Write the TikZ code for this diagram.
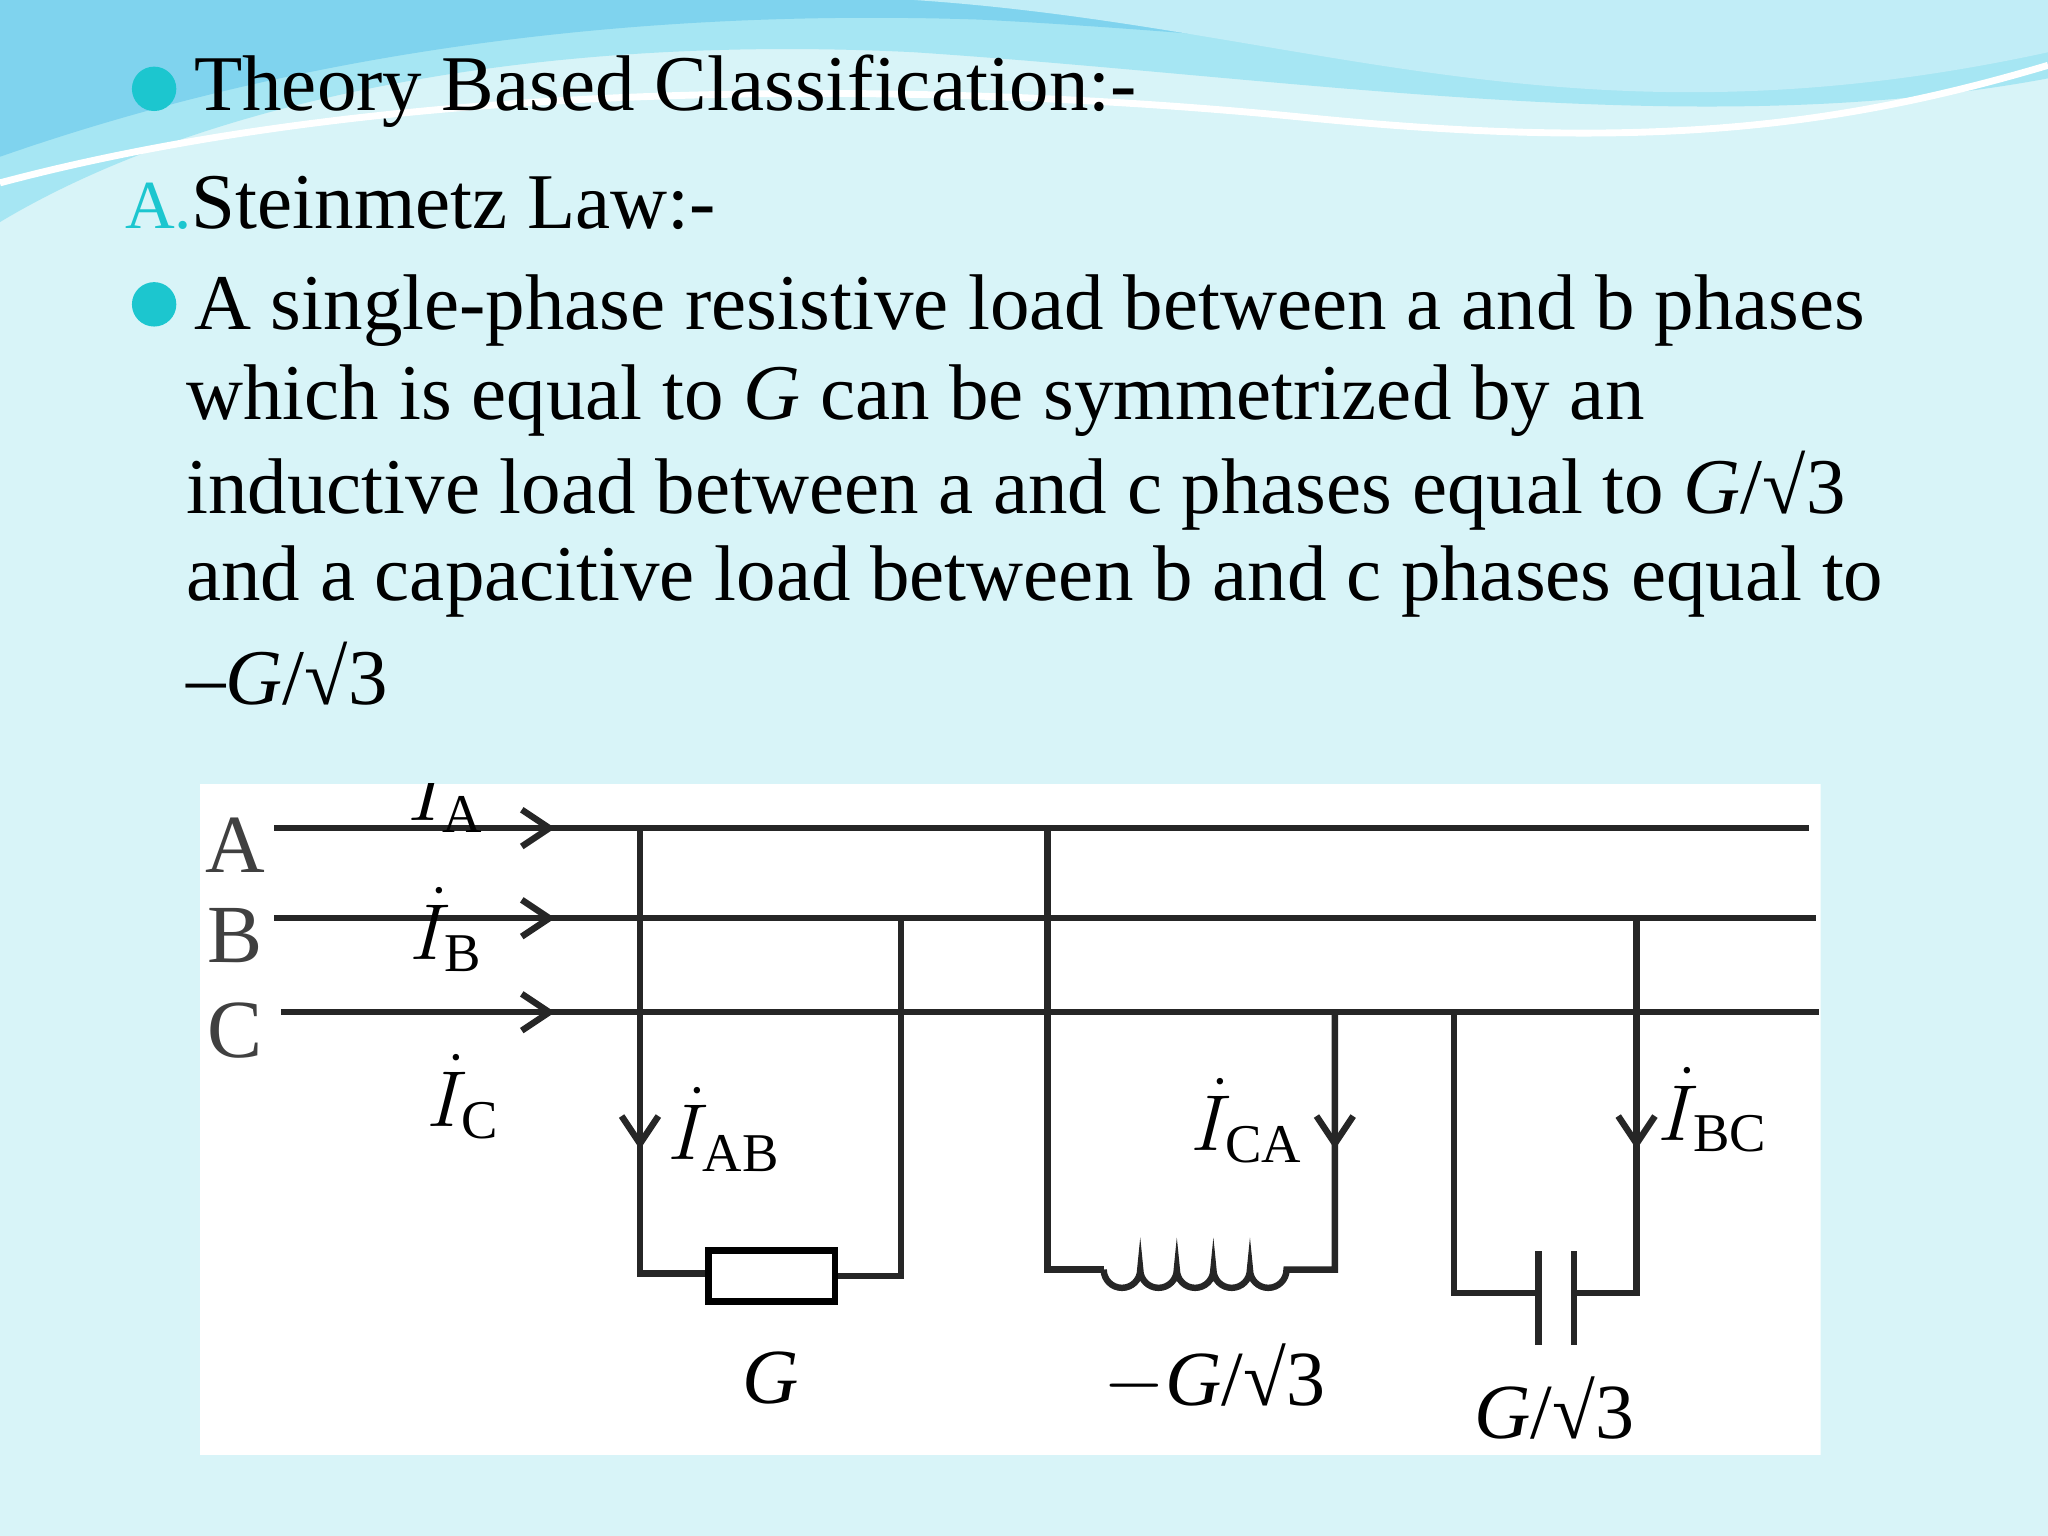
\documentclass[tikz,border=0pt]{standalone}
\usepackage{fontspec}
\setmainfont{Liberation Serif}
\usetikzlibrary{arrows.meta}
\definecolor{bgc}{HTML}{D8F4F8}
\definecolor{teal1}{HTML}{1CC6CF}
\definecolor{wave1}{HTML}{7FD3EE}
\definecolor{wave2}{HTML}{A6E6F3}
\tikzset{
 txt/.style={anchor=west,inner sep=0pt,font=\fontsize{17.2}{19}\selectfont},
 wire/.style={line width=1.4pt,black!85},
 lbl/.style={inner sep=0pt,font=\fontsize{17}{19}\selectfont},
 arr/.style={-{Straight Barb[length=6pt,width=8pt,line width=1.4pt]}}
}
\begin{document}
\begin{tikzpicture}[x=0.1mm,y=-0.1mm]
\useasboundingbox (0,0) rectangle (1568,1176);
\fill[bgc] (0,0) rectangle (1568,1176);
% waves
\fill[wave2] (0,0) -- (1568,0) -- (1568,60) .. controls (1300,110) and (1000,60) .. (700,40) .. controls (400,25) and (150,80) .. (0,170) -- cycle;
\fill[wave1] (0,0) -- (1568,0) -- (1568,30) .. controls (1350,80) and (1050,30) .. (750,15) .. controls (450,5) and (200,50) .. (0,120) -- cycle;
\fill[wave2!70!white] (700,0) .. controls (1000,20) and (1200,120) .. (1568,40) -- (1568,0) -- cycle;
\draw[white,line width=1.5pt] (0,140) .. controls (300,60) and (700,60) .. (1000,90) .. controls (1250,115) and (1400,100) .. (1568,50);
% text
\fill[teal1] (118,68) circle (17);
\node[txt] (t1) at (148,70) {Theory Based Classification:-};
\node[txt] (ta) at (95,155) {\textcolor{teal1}{\fontsize{15}{17}\selectfont A.}Steinmetz Law:-};
\fill[teal1] (118,233) circle (17);
\node[txt] (l1) at (148,238) {A single-phase resistive load between a and b phases};
\node[txt] (l2) at (142,307) {which is equal to \textit{G} can be symmetrized by an};
\node[txt] (l3) at (142,376) {inductive load between a and c phases equal to \textit{G}/√3};
\node[txt] (l4) at (142,445) {and a capacitive load between b and c phases equal to};
\node[txt] (l5) at (142,516) {–\textit{G}/√3};
% circuit
\begin{scope}
\clip (153,600) rectangle (1394,1114);
\fill[white] (153,600) rectangle (1394,1114);
\coordinate (a0) at (210,634); \coordinate (a1) at (1385,634);
\coordinate (b0) at (210,703); \coordinate (b1) at (1390,703);
\coordinate (c0) at (215,775); \coordinate (c1) at (1393,775);
\draw[wire] (a0) -- (a1); \draw[wire] (b0) -- (b1); \draw[wire] (c0) -- (c1);
\draw[wire,arr] (380,634) -- (425,634);
\draw[wire,arr] (380,703) -- (425,703);
\draw[wire,arr] (380,775) -- (425,775);
\node[lbl,font=\fontsize{18}{20}\selectfont,text=black!75] (LA) at (180,647) {A};
\node[lbl,font=\fontsize{18}{20}\selectfont,text=black!75] (LB) at (180,716) {B};
\node[lbl,font=\fontsize{18}{20}\selectfont,text=black!75] (LC) at (180,789) {C};
\node[lbl] (IA) at (342,605) {$\dot{I}_{\mathrm{A}}$};
\node[lbl] (IB) at (342,712) {$\dot{I}_{\mathrm{B}}$};
\node[lbl] (IC) at (355,840) {$\dot{I}_{\mathrm{C}}$};
% load 1
\draw[wire] (490,634) -- (490,975) -- (543,975);
\node[draw,line width=1.4pt,minimum width=9.7mm,minimum height=3.9mm,inner sep=0pt] (R) at (591,977) {};
\draw[wire] (R.east) -- (690,977) -- (690,703);
\draw[wire,arr] (490,800) -- (490,880);
\node[lbl] (IAB) at (555,865) {$\dot{I}_{\mathrm{AB}}$};
\node[lbl] (G1) at (590,1055) {\textit{G}};
% load 2
\draw[wire] (802,634) -- (802,972) -- (845,972);
\draw[wire] (845,972) \foreach \i in {0,...,4} { arc[start angle=180,end angle=0,radius=14] } -- (1022,972) -- (1022,775);
\draw[wire,arr] (1022,800) -- (1022,880);
\node[lbl] (ICA) at (955,858) {$\dot{I}_{\mathrm{CA}}$};
\node[lbl] (G2) at (930,1055) {$-$\textit{G}/√3};
% load 3
\draw[wire] (1113,775) -- (1113,990) -- (1178,990);
\draw[wire] (1178,958) -- (1178,1030);
\draw[wire] (1205,958) -- (1205,1030);
\draw[wire] (1205,990) -- (1253,990) -- (1253,703);
\draw[wire,arr] (1253,800) -- (1253,880);
\node[lbl] (IBC) at (1312,850) {$\dot{I}_{\mathrm{BC}}$};
\node[lbl] (G3) at (1190,1078) {\textit{G}/√3};
\end{scope}
\end{tikzpicture}
\end{document}
